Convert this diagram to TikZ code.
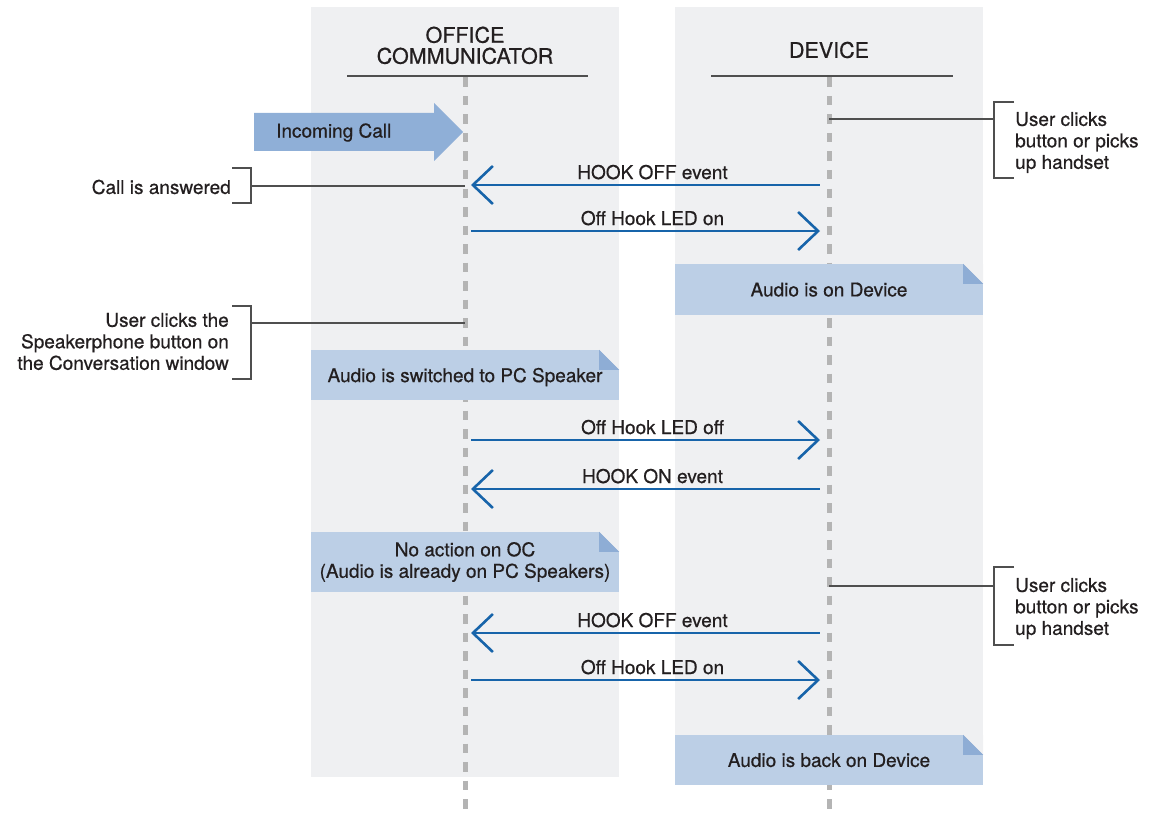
\documentclass[tikz,border=0pt]{standalone}
\usepackage{fontspec}
\setmainfont{TeX Gyre Heros}[FakeBold=0.6]
\usetikzlibrary{arrows.meta,positioning}

\definecolor{lanegray}{HTML}{EFF0F2}
\definecolor{notefill}{HTML}{BCCFE6}
\definecolor{foldblue}{HTML}{8EADD5}
\definecolor{callblue}{HTML}{8FAFD7}
\definecolor{msgblue}{HTML}{1764AA}
\definecolor{dashgray}{HTML}{B4B4B4}
\definecolor{rulegray}{HTML}{4F4F4F}
\definecolor{ink}{HTML}{231F20}

\begin{document}
\begin{tikzpicture}[x=1pt,y=-1pt,
      every node/.style={font=\fontsize{19}{21.5}\selectfont,text=ink,inner sep=0pt},
      lane/.style={fill=lanegray},
      heading/.style={align=center,font=\fontsize{21.5}{21}\selectfont},
      rule/.style={draw=rulegray,line width=1.2pt},
      lifeline/.style={draw=dashgray,line width=5pt,dash pattern=on 9.5pt off 9pt},
      msg/.style={draw=msgblue,line width=2.6pt},
      toDev/.style={msg,-{Straight Barb[length=20pt,width=38pt,line width=2.6pt]}},
      toOC/.style={msg,{Straight Barb[length=20pt,width=38pt,line width=2.6pt]}-},
      note/.style={fill=notefill,minimum width=308pt,align=center},
      bracket/.style={draw=rulegray,line width=1.2pt},
      pointer/.style={draw=rulegray,line width=1.2pt},
    ]
      \useasboundingbox (0,0) rectangle (1158,813);

      % swim lanes
      \fill[lane] (311,7) rectangle (619,777);
      \fill[lane] (675,7) rectangle (983,777);

      % headings
      \node[heading] (ocHead) at (465,45.4) {OFFICE\\COMMUNICATOR};
      \node[heading] (devHead) at (829,50) {DEVICE};
      \draw[rule] (347,76) -- (588,76);
      \draw[rule] (711,76) -- (953,76);

      % life lines
      \coordinate (ocTop) at (465,77.5);
      \coordinate (ocBot) at (465,813);
      \coordinate (devTop) at (829,77.5);
      \coordinate (devBot) at (829,813);
      \draw[lifeline] (ocTop) -- (ocBot);
      \draw[lifeline] (devTop) -- (devBot);

      % incoming call
      \fill[callblue] (254,113) -- (434,113) -- (434,103) -- (463,132)
        -- (434,161) -- (434,151) -- (254,151) -- cycle;
      \node[anchor=west] (incoming) at (276,132.5) {Incoming Call};

      % messages
      \foreach \y/\lbl/\way [count=\i] in {185/HOOK OFF event/toOC,
                                           231/Off Hook LED on/toDev,
                                           440/Off Hook LED off/toDev,
                                           489/HOOK ON event/toOC,
                                           633/HOOK OFF event/toOC,
                                           680/Off Hook LED on/toDev}{
        \coordinate (oc\i) at (471,\y);
        \coordinate (dev\i) at (820,\y);
        \draw[\way] (oc\i) -- node[anchor=base,yshift=6pt,xshift=7pt] {\lbl} (dev\i);
      }

      % notes
      \node[note,minimum height=51pt,text depth=0pt] (onDevice) at (829,289.5) {Audio is on Device};
      \node[note,minimum height=50pt,text depth=0pt] (toPC) at (465,375) {Audio is switched to PC Speaker};
      \node[note,minimum height=60pt] (noAction) at (465,562) {No action on OC\\(Audio is already on PC Speakers)};
      \node[note,minimum height=50pt,text depth=0pt] (backDevice) at (829,760) {Audio is back on Device};
      \foreach \n in {onDevice,toPC,noAction,backDevice}{
        \fill[lanegray] (\n.north east) -- ++(-20,0) -- ++(20,20) -- cycle;
        \fill[foldblue] ([xshift=-20pt]\n.north east) -- ++(0,20) -- ++(20,0) -- cycle;
      }

      % side remarks
      \node[anchor=east] (answered) at (231,187) {Call is answered};
      \node[anchor=east,align=right] (speaker) at (229,341.5) {User clicks the\\Speakerphone button on\\the Conversation window};
      \node[anchor=west,align=left] (pickup) at (1015,142.5) {User clicks\\button or picks\\up handset};
      \node[anchor=west,align=left] (pickupAgain) at (1015,608.5) {User clicks\\button or picks\\up handset};

      \draw[bracket] (232,168) -- (251,168) -- (251,203) -- (232,203);
      \draw[bracket] (232,306) -- (251,306) -- (251,379) -- (232,379);
      \draw[bracket] (1014,102) -- (994,102) -- (994,178) -- (1014,178);
      \draw[bracket] (1014,567) -- (994,567) -- (994,645) -- (1014,645);

      \coordinate (answeredEnd) at (251,186);
      \coordinate (answeredLine) at (465,186);
      \coordinate (speakerEnd) at (251,323);
      \coordinate (speakerLine) at (465,323);
      \coordinate (pickupEnd) at (994,119);
      \coordinate (pickupLine) at (829,119);
      \coordinate (pickupAgainEnd) at (994,586);
      \coordinate (pickupAgainLine) at (829,586);
      \path[pointer] (answeredEnd) edge (answeredLine);
      \path[pointer] (speakerEnd) edge (speakerLine);
      \path[pointer] (pickupEnd) edge (pickupLine);
      \path[pointer] (pickupAgainEnd) edge (pickupAgainLine);
    \end{tikzpicture}
\end{document}
